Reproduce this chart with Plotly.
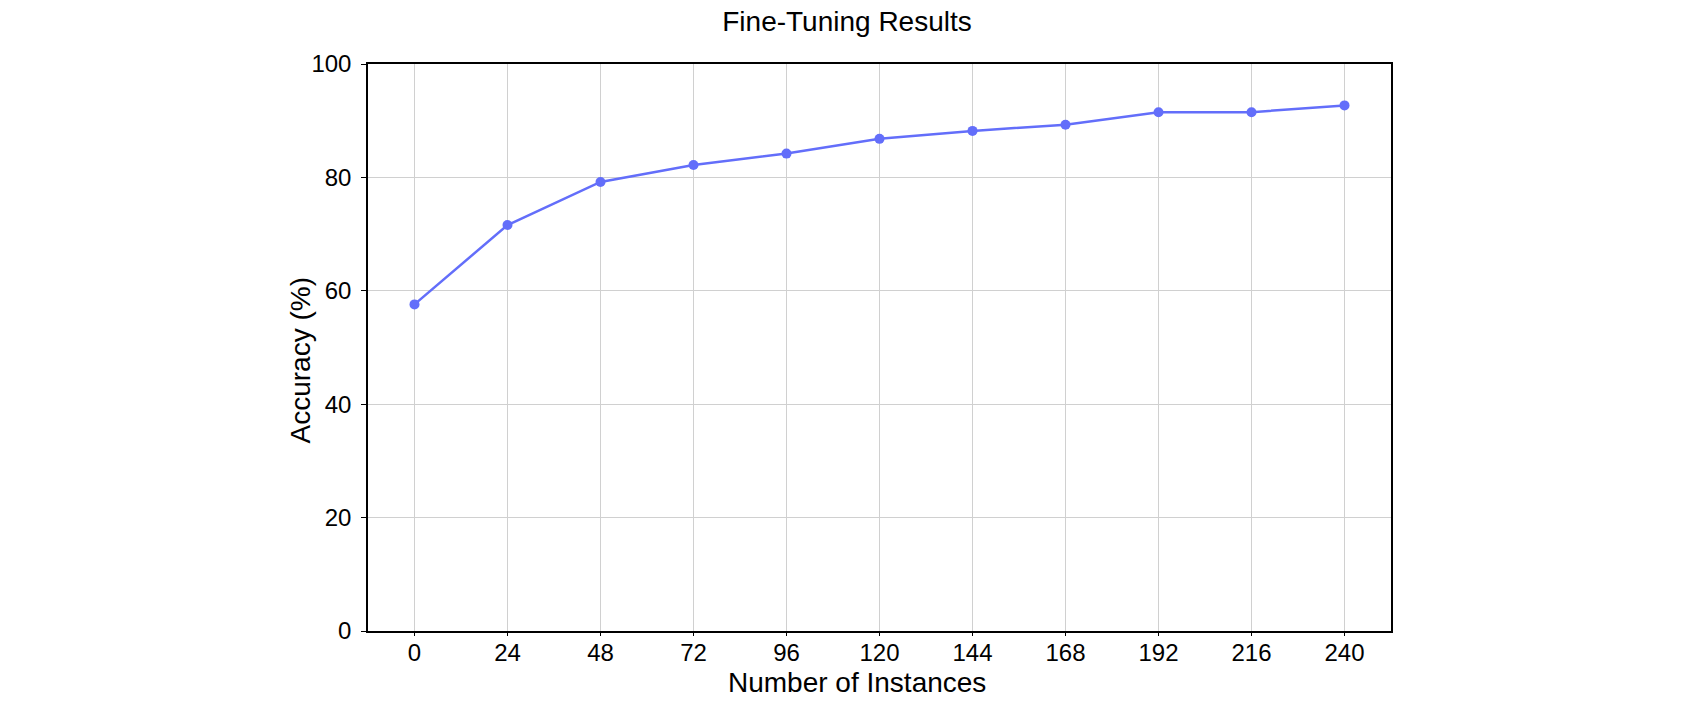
import plotly.graph_objects as go

instances = [0, 24, 48, 72, 96, 120, 144, 168, 192, 216, 240]
accuracy = [57.6, 71.6, 79.2, 82.2, 84.2, 86.8, 88.2, 89.3, 91.5, 91.5, 92.7]
x_ticks = [0, 24, 48, 72, 96, 120, 144, 168, 192, 216, 240]
y_ticks = [0, 20, 40, 60, 80, 100]

FONT = "Liberation Sans, Arial, Helvetica, sans-serif"

W, H = 1694, 704
L, R, T, B = 368, 303, 64, 73
plot_w = W - L - R
plot_h = H - T - B

fig = go.Figure()
fig.add_trace(go.Scatter(
    x=instances, y=accuracy, mode="lines+markers",
    line=dict(color="#636EFA", width=2.5),
    marker=dict(color="#636EFA", size=10),
    showlegend=False,
))

axis_common = dict(
    showline=True, linecolor="black", linewidth=1.5, mirror=True,
    showgrid=True, gridcolor="#d0d0d0", gridwidth=1,
    ticks="outside", tickcolor="black",
    tickfont=dict(size=24, color="black", family=FONT),
    zeroline=False, automargin=False,
)

fig.update_layout(
    width=W, height=H,
    paper_bgcolor="white", plot_bgcolor="white",
    margin=dict(l=L, r=R, t=T, b=B),
    font=dict(family=FONT, color="black"),
    title=dict(text="Fine-Tuning Results", x=0.5, xref="container", xanchor="center",
               y=1 - 21.5 / H, yref="container", yanchor="middle",
               font=dict(size=28, color="black", family=FONT)),
    xaxis=dict(range=[-12, 252], tickvals=x_ticks, ticktext=[str(v) for v in x_ticks],
               ticklen=3, ticklabelstandoff=-4, **axis_common),
    yaxis=dict(range=[0, 100], tickvals=y_ticks, ticklen=5, ticklabelstandoff=5,
               **axis_common),
)

fig.add_annotation(text="Number of Instances", xref="paper", yref="paper",
                   x=(856.7 - L) / plot_w, y=-(682 - (H - B)) / plot_h,
                   xanchor="center", yanchor="middle", showarrow=False,
                   font=dict(size=28, color="black", family=FONT))
fig.add_annotation(text="Accuracy (%)", xref="paper", yref="paper",
                   x=(300.8 - L) / plot_w, y=((H - B) - 360.7) / plot_h,
                   xanchor="center", yanchor="middle", showarrow=False, textangle=-90,
                   font=dict(size=28, color="black", family=FONT))

fig.write_html("out.html", config={"displayModeBar": False},
               post_script="document.body.style.margin='0';")
